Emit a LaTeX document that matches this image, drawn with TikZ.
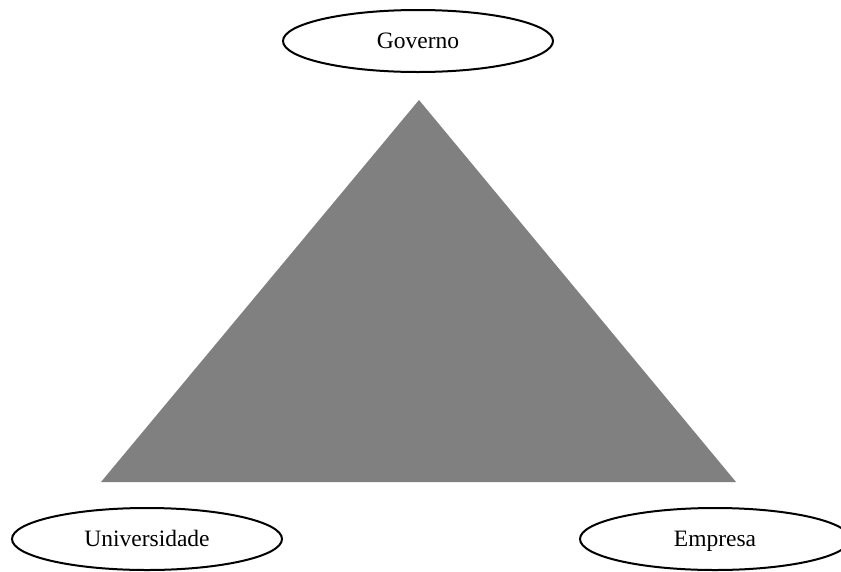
\documentclass[tikz,border=0pt]{standalone}
\usepackage{fontspec}
\setmainfont{Liberation Serif}
\usetikzlibrary{shapes.geometric}
\definecolor{wedgegray}{RGB}{128,128,128}
\tikzset{
  party/.style={draw=black, line width=2pt, fill=white, ellipse,
    minimum width=270pt, minimum height=62pt, inner sep=0pt,
    text height=18pt, text depth=4pt,
    font=\fontsize{23.5}{28}\selectfont},
}
\begin{document}
\begin{tikzpicture}[x=1pt,y=-1pt]
  \clip (0,0) rectangle (841,571);
  \useasboundingbox (0,0) rectangle (841,571);
  % central triangle
  \coordinate (apex) at (419,100);
  \coordinate (bl) at (101,482);
  \coordinate (br) at (736,482);
  \fill[wedgegray] (apex) -- (bl) -- (br) -- cycle;
  % the three actors
  \node[party] (gov) at (418,41) {Governo};
  \node[party] (uni) at (147,539) {Universidade};
  \node[party] (emp) at (715,539) {Empresa};
\end{tikzpicture}
\end{document}
